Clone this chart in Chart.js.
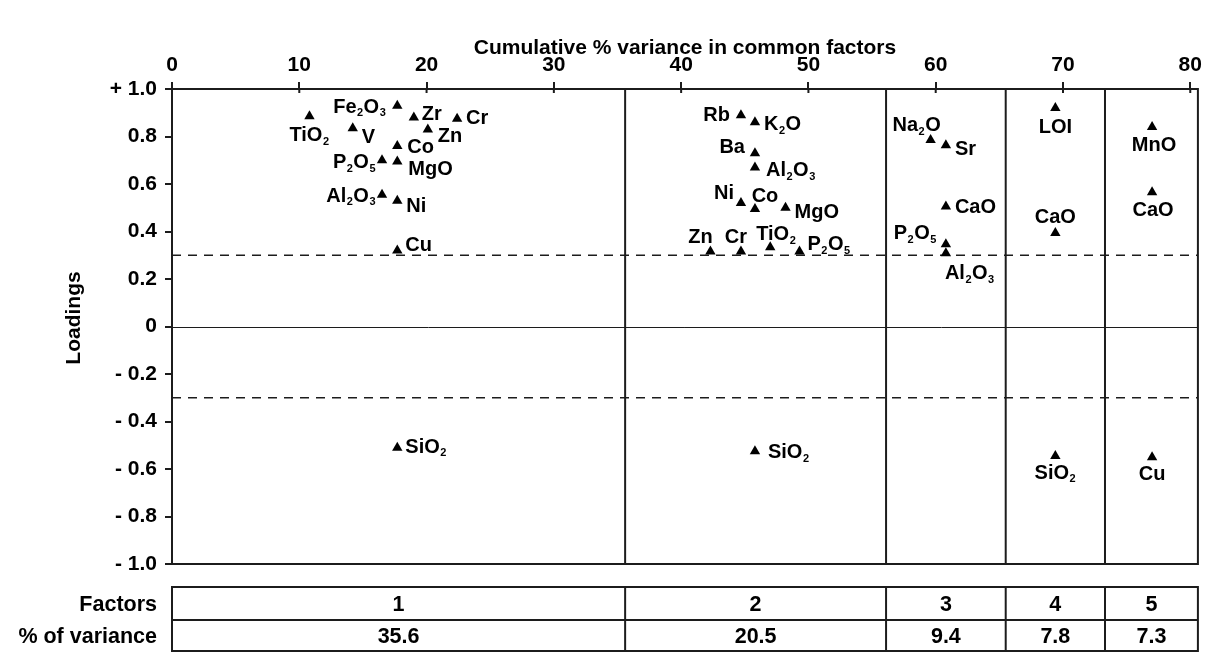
<!DOCTYPE html>
<html>
<head>
<meta charset="utf-8">
<title>Factor loadings</title>
<script src="https://cdn.jsdelivr.net/npm/chart.js@4.4.1/dist/chart.umd.min.js"></script>
<style>
  html, body { margin: 0; padding: 0; background: #fff; }
  #wrap { width: 1206px; height: 652px; position: relative; }
</style>
</head>
<body>
<div id="wrap"><canvas id="loadingsplot"></canvas></div>
<script>
// axis ticks
var xTicks = [0, 10, 20, 30, 40, 50, 60, 70, 80];
var yTickValues = [1, 0.8, 0.6, 0.4, 0.2, 0, -0.2, -0.4, -0.6, -0.8, -1];
var yTickLabels = ['+ 1.0', '0.8', '0.6', '0.4', '0.2', '0', '- 0.2', '- 0.4', '- 0.6', '- 0.8', '- 1.0'];

// factors and their share of variance
var factorNames = ['1', '2', '3', '4', '5'];
var variancePct = [35.6, 20.5, 9.4, 7.8, 7.3];

// loadings per factor (x = cumulative % variance, y = loading)
var f1Elements = ['TiO2', 'V', 'Fe2O3', 'Zr', 'Cr', 'Zn', 'Co', 'P2O5', 'MgO', 'Al2O3', 'Ni', 'Cu', 'SiO2'];
var f1Cum = [10.8, 14.2, 17.7, 19.0, 22.4, 20.1, 17.7, 16.5, 17.7, 16.5, 17.7, 17.7, 17.7];
var f1Load = [0.885, 0.835, 0.93, 0.88, 0.875, 0.83, 0.76, 0.70, 0.695, 0.555, 0.53, 0.32, -0.51];

var f2Elements = ['Rb', 'K2O', 'Ba', 'Al2O3', 'Ni', 'Co', 'MgO', 'Zn', 'Cr', 'TiO2', 'P2O5', 'SiO2'];
var f2Cum = [44.7, 45.8, 45.8, 45.8, 44.7, 45.8, 48.2, 42.3, 44.7, 47.0, 49.3, 45.8];
var f2Load = [0.89, 0.86, 0.73, 0.67, 0.52, 0.495, 0.50, 0.316, 0.316, 0.334, 0.316, -0.525];

var f3Elements = ['Na2O', 'Sr', 'CaO', 'P2O5', 'Al2O3'];
var f3Cum = [59.6, 60.8, 60.8, 60.8, 60.8];
var f3Load = [0.785, 0.763, 0.505, 0.346, 0.308];

var f4Elements = ['LOI', 'CaO', 'SiO2'];
var f4Cum = [69.4, 69.4, 69.4];
var f4Load = [0.92, 0.394, -0.545];

var f5Elements = ['MnO', 'CaO', 'Cu'];
var f5Cum = [77.0, 77.0, 77.0];
var f5Load = [0.84, 0.565, -0.55];

// where each label sits next to its marker: anchor (l/r/c), dx, dy in px
var f1Place = [['c', 0, 18], ['r', 9, 8], ['l', -11, 0], ['r', 8, -5], ['r', 9, -2], ['r', 10, 6], ['r', 10, 0],
  ['l', -6, 1], ['r', 11, 7], ['l', -6, 0], ['r', 9, 4], ['r', 8, -7], ['r', 8, -2]];
var f2Place = [['l', -11, -1], ['r', 9, 1], ['l', -10, -7], ['r', 11, 2], ['l', -7, -11], ['c', 10, -14],
  ['r', 9, 3], ['c', -10, -15], ['c', -5, -15], ['c', 6, -14], ['r', 8, -8], ['r', 13, 0]];
var f3Place = [['c', -14, -16], ['r', 9, 3], ['r', 9, -1], ['l', -9, -12], ['r', -1, 19]];
var f4Place = [['c', 0, 18], ['c', 0, -17], ['c', 0, 16]];
var f5Place = [['c', 2, 17], ['c', 1, 17], ['c', 0, 16]];

var FONT = "'Liberation Sans', Arial, Helvetica, sans-serif";
var INK = '#1c1c1c';

// cumulative bounds of the factor columns
var bounds = [0];
variancePct.forEach(function (v) {
    bounds.push(Math.round((bounds[bounds.length - 1] + v) * 10) / 10);
});
var xMax = bounds[bounds.length - 1];

function toPoints(xs, ys) {
    return xs.map(function (x, i) { return { x: x, y: ys[i] }; });
}

var groups = [
    { names: f1Elements, place: f1Place, data: toPoints(f1Cum, f1Load) },
    { names: f2Elements, place: f2Place, data: toPoints(f2Cum, f2Load) },
    { names: f3Elements, place: f3Place, data: toPoints(f3Cum, f3Load) },
    { names: f4Elements, place: f4Place, data: toPoints(f4Cum, f4Load) },
    { names: f5Elements, place: f5Place, data: toPoints(f5Cum, f5Load) }
];

// formula text with digits as subscripts, e.g. Fe2O3
function splitFormula(txt) {
    var parts = [];
    txt.replace(/(\d+)|(\D+)/g, function (m, d) {
        parts.push({ text: m, sub: !!d });
    });
    return parts;
}

function partFont(p) {
    return p.sub ? 'bold 11px ' + FONT : 'bold 20px ' + FONT;
}

function drawFormula(ctx, txt, x, cy, anchor) {
    var parts = splitFormula(txt);
    var w = 0;
    parts.forEach(function (p) {
        ctx.font = partFont(p);
        w += ctx.measureText(p.text).width + (p.sub ? 1 : 0);
    });
    var left = anchor === 'l' ? x - w : anchor === 'c' ? x - w / 2 : x;
    var base = cy + 7;
    ctx.textAlign = 'left';
    ctx.textBaseline = 'alphabetic';
    parts.forEach(function (p) {
        ctx.font = partFont(p);
        ctx.fillText(p.text, left + (p.sub ? 0.5 : 0), p.sub ? base + 3.5 : base);
        left += ctx.measureText(p.text).width + (p.sub ? 1 : 0);
    });
}

var framePlugin = {
    id: 'frame',
    beforeDatasetsDraw: function (chart) {
        var ctx = chart.ctx, a = chart.chartArea;
        var xs = chart.scales.x, ys = chart.scales.y;
        ctx.save();
        ctx.strokeStyle = INK;

        // zero line
        ctx.lineWidth = 1;
        var y0 = Math.round(ys.getPixelForValue(0)) + 0.5;
        ctx.beginPath(); ctx.moveTo(a.left, y0); ctx.lineTo(a.right, y0); ctx.stroke();

        // significance limits at +/- 0.3
        ctx.lineWidth = 1.5;
        ctx.setLineDash([9, 7]);
        [0.3, -0.3].forEach(function (v) {
            var y = ys.getPixelForValue(v);
            ctx.beginPath(); ctx.moveTo(a.left, y); ctx.lineTo(a.right, y); ctx.stroke();
        });
        ctx.setLineDash([]);

        // factor column dividers
        ctx.lineWidth = 2;
        bounds.slice(1, -1).forEach(function (b) {
            var x = xs.getPixelForValue(b);
            ctx.beginPath(); ctx.moveTo(x, a.top); ctx.lineTo(x, a.bottom); ctx.stroke();
        });

        // outer box
        ctx.strokeRect(a.left, a.top, a.right - a.left, a.bottom - a.top);

        // inner half of the x ticks
        xTicks.forEach(function (t) {
            var x = xs.getPixelForValue(t);
            ctx.beginPath(); ctx.moveTo(x, a.top); ctx.lineTo(x, a.top + 4); ctx.stroke();
        });

        // y axis title
        ctx.fillStyle = '#000';
        ctx.font = 'bold 21px ' + FONT;
        ctx.textAlign = 'center';
        ctx.textBaseline = 'middle';
        ctx.translate(74, 318);
        ctx.rotate(-Math.PI / 2);
        ctx.fillText('Loadings', 0, 0);
        ctx.restore();

        // factor table below the plot
        ctx.save();
        var tTop = 587, tMid = 620, tBot = 651;
        ctx.strokeStyle = INK;
        ctx.lineWidth = 2;
        ctx.strokeRect(a.left, tTop, a.right - a.left, tBot - tTop);
        ctx.beginPath(); ctx.moveTo(a.left, tMid); ctx.lineTo(a.right, tMid); ctx.stroke();
        bounds.slice(1, -1).forEach(function (b) {
            var x = xs.getPixelForValue(b);
            ctx.beginPath(); ctx.moveTo(x, tTop); ctx.lineTo(x, tBot); ctx.stroke();
        });
        ctx.fillStyle = '#000';
        ctx.font = 'bold 21.5px ' + FONT;
        ctx.textBaseline = 'middle';
        ctx.textAlign = 'right';
        ctx.fillText('Factors', 157, (tTop + tMid) / 2 + 2);
        ctx.fillText('% of variance', 157, (tMid + tBot) / 2 + 2);
        ctx.textAlign = 'center';
        factorNames.forEach(function (f, i) {
            var cx = (xs.getPixelForValue(bounds[i]) + xs.getPixelForValue(bounds[i + 1])) / 2;
            ctx.fillText(f, cx, (tTop + tMid) / 2 + 2);
            ctx.fillText(variancePct[i].toFixed(1), cx, (tMid + tBot) / 2 + 2);
        });
        ctx.restore();
    },
    afterDatasetsDraw: function (chart) {
        var ctx = chart.ctx;
        var xs = chart.scales.x, ys = chart.scales.y;
        ctx.save();
        ctx.fillStyle = '#000';
        groups.forEach(function (g) {
            g.data.forEach(function (p, i) {
                var pl = g.place[i];
                drawFormula(ctx, g.names[i], xs.getPixelForValue(p.x) + pl[1], ys.getPixelForValue(p.y) + pl[2], pl[0]);
            });
        });
        ctx.restore();
    }
};

var ctx = document.getElementById('loadingsplot').getContext('2d');
var chart = new Chart(ctx, {
    type: 'scatter',
    data: {
        datasets: groups.map(function (g, i) {
            return {
                label: 'Factor ' + factorNames[i],
                data: g.data,
                pointStyle: 'triangle',
                pointRadius: 6,
                pointHoverRadius: 6,
                backgroundColor: '#000',
                borderColor: '#000',
                borderWidth: 0
            };
        })
    },
    options: {
        responsive: true,
        maintainAspectRatio: false,
        animation: false,
        layout: { padding: { left: 0, top: 0, right: 7, bottom: 88 } },
        plugins: {
            legend: { display: false },
            tooltip: { enabled: false }
        },
        scales: {
            x: {
                type: 'linear',
                position: 'top',
                min: 0,
                max: xMax,
                afterBuildTicks: function (scale) {
                    scale.ticks = xTicks.map(function (v) { return { value: v }; });
                },
                afterFit: function (scale) { scale.height = 89; },
                grid: { drawOnChartArea: false, drawTicks: true, tickLength: 7, color: INK, lineWidth: 2 },
                border: { display: false },
                ticks: {
                    color: '#000',
                    padding: 4,
                    maxRotation: 0,
                    font: { family: FONT, size: 21, weight: 'bold' }
                },
                title: {
                    display: true,
                    text: 'Cumulative % variance in common factors',
                    color: '#000',
                    font: { family: FONT, size: 21, weight: 'bold' },
                    padding: { top: 36, bottom: 0 }
                }
            },
            y: {
                type: 'linear',
                min: -1,
                max: 1,
                afterBuildTicks: function (scale) {
                    scale.ticks = yTickValues.map(function (v) { return { value: v }; });
                },
                afterFit: function (scale) { scale.width = 172; },
                grid: { drawOnChartArea: false, drawTicks: true, tickLength: 7, color: INK, lineWidth: 2 },
                border: { display: false },
                ticks: {
                    color: '#000',
                    padding: 8,
                    font: { family: FONT, size: 21, weight: 'bold' },
                    callback: function (value, index) {
                        return yTickLabels[index];
                    }
                }
            }
        }
    },
    plugins: [framePlugin]
});
</script>
</body>
</html>
